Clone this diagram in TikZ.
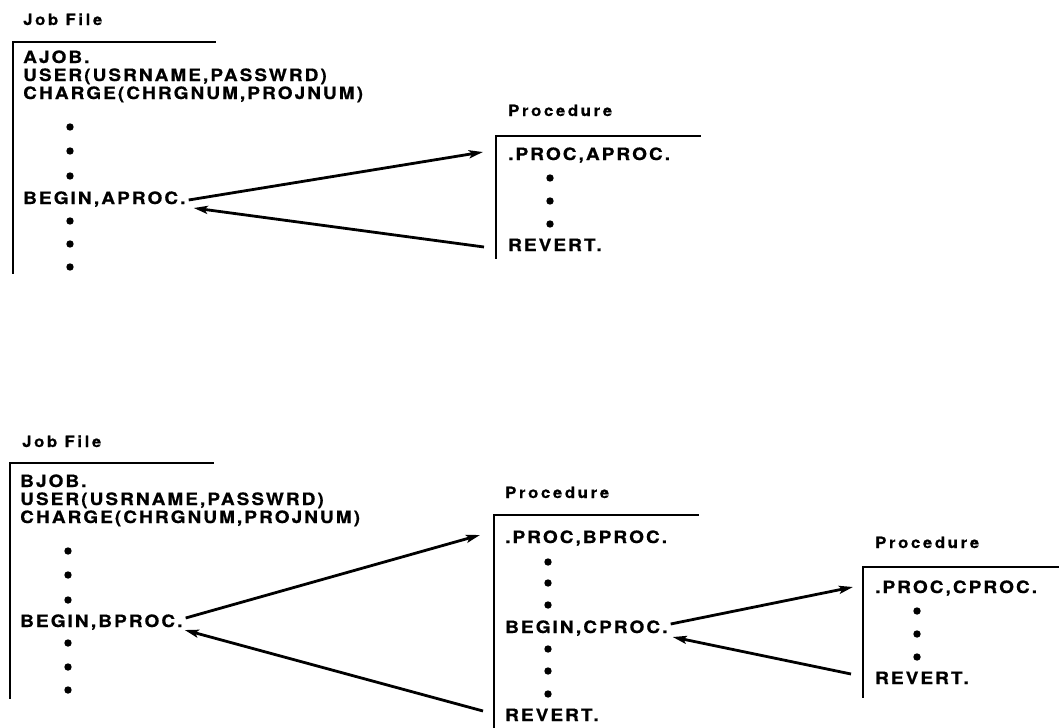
\documentclass[tikz,border=0pt]{standalone}
\usepackage{fontspec}
\usetikzlibrary{arrows.meta}
\newfontfamily\cardfont{TeX Gyre Heros}[LetterSpace=12,FakeStretch=1.12,BoldFeatures={FakeBold=0.6}]
\newfontfamily\capfont{TeX Gyre Heros}[LetterSpace=17,FakeStretch=1.08,BoldFeatures={FakeBold=0.6}]

\tikzset{
  line/.style={text=black, inner sep=0pt, anchor=base west,
    font=\cardfont\bfseries\fontsize{17}{20}\selectfont,
    text height=12pt, text depth=0pt},
  caption/.style={inner sep=0pt, anchor=base west,
    font=\capfont\bfseries\fontsize{15.5}{18}\selectfont},
  frame/.style={line width=2.3pt, line cap=rect},
  call/.style={line width=2.8pt, -{Stealth[length=14pt,width=8pt,inset=3pt]}},
  dot/.style={fill=black}
}

\begin{document}
\begin{tikzpicture}[x=1pt,y=-1pt]
\useasboundingbox (0,0) rectangle (1060,728);

% ---------------- first example: AJOB calls APROC ----------------
\node[caption] (jfA) at (23,25) {Job File};
\draw[frame] (215,42) -- (13,42) -- (13,273);
\node[line] (ajob)  at (23,63)  {AJOB.};
\node[line] (userA) at (23,81) {USER(USRNAME,PASSWRD)};
\node[line] (chgA)  at (23,99) {CHARGE(CHRGNUM,PROJNUM)};
\foreach \y in {127,151,176} \fill[dot] (70,\y) circle (3.7);
\node[line] (beginA) at (23,204) {BEGIN,APROC.};
\foreach \y in {221,244,267} \fill[dot] (70,\y) circle (3.7);

\node[caption] (prA) at (508,116) {Procedure};
\draw[frame] (700,136) -- (496,136) -- (496,258);
\node[line] (procA) at (508,160) {.PROC,APROC.};
\foreach \y in {178,201,224} \fill[dot] (550,\y) circle (3.7);
\node[line] (revA) at (508,251) {REVERT.};

\draw[call] ([shift={(3,2)}]beginA.east) -- ([shift={(-25,-2)}]procA.west);
\draw[call] ([shift={(-24,2)}]revA.west) -- ([shift={(8,10)}]beginA.east);

% ---------------- second example: BJOB calls BPROC, which calls CPROC ----------------
\node[caption] (jfB) at (22,447) {Job File};
\draw[frame] (213,463) -- (10,463) -- (10,698);
\node[line] (bjob)  at (20,487)   {BJOB.};
\node[line] (userB) at (20,505) {USER(USRNAME,PASSWRD)};
\node[line] (chgB)  at (20,523)   {CHARGE(CHRGNUM,PROJNUM)};
\foreach \y in {551,575,600} \fill[dot] (68,\y) circle (3.7);
\node[line] (beginB) at (20,627) {BEGIN,BPROC.};
\foreach \y in {643,667,690} \fill[dot] (68,\y) circle (3.7);

\node[caption] (prB) at (505,498) {Procedure};
\draw[frame] (698,515) -- (494,515) -- (494,730);
\node[line] (procB) at (505,543) {.PROC,BPROC.};
\foreach \y in {562,583,605} \fill[dot] (548,\y) circle (3.7);
\node[line] (beginC) at (505,633) {BEGIN,CPROC.};
\foreach \y in {649,671,694} \fill[dot] (548,\y) circle (3.7);
\node[line] (revB) at (505,721) {REVERT.};

\node[caption] (prC) at (875,548) {Procedure};
\draw[frame] (1058,567) -- (863,567) -- (863,697);
\node[line] (procC) at (875,593) {.PROC,CPROC.};
\foreach \y in {611,634,657} \fill[dot] (917,\y) circle (3.7);
\node[line] (revC) at (875,684) {REVERT.};

\draw[call] ([shift={(3,-3)}]beginB.east) -- ([shift={(-25,-2)}]procB.west);
\draw[call] ([shift={(-22,-4)}]revB.west) -- ([shift={(2,9)}]beginB.east);
\draw[call] ([shift={(3,-3)}]beginC.east) -- ([shift={(-22,0)}]procC.west);
\draw[call] ([shift={(-24,-4)}]revC.west) -- ([shift={(5,10)}]beginC.east);
\end{tikzpicture}
\end{document}
